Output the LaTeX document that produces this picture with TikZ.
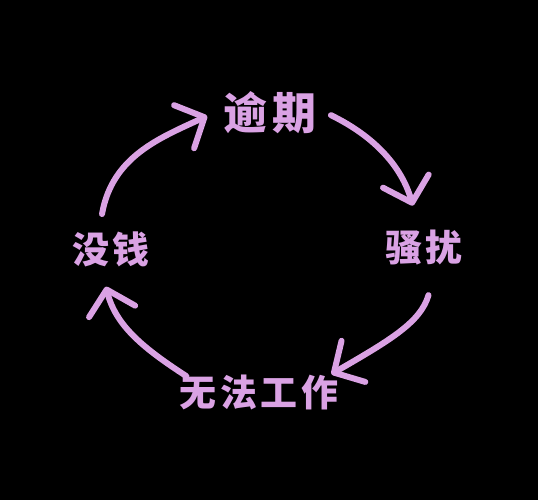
\documentclass[tikz,border=0pt]{standalone}
\usepackage{fontspec}
\usepackage{tikz}
\usetikzlibrary{arrows.meta}
\newfontfamily\cjk[LetterSpace=10]{Noto Sans CJK SC}
\definecolor{lilac}{RGB}{218,162,228}

\begin{document}
\begin{tikzpicture}[x=0.02cm,y=0.02cm,
  lbl/.style={text=lilac,inner sep=0.2cm,
    font=\cjk\bfseries\fontsize{21pt}{21pt}\selectfont},
  cyc/.style={draw=lilac,line width=0.12cm,line cap=round,
    -{Straight Barb[length=0.45cm,width=0.95cm,round]}}]
  \fill[black] (0,0) rectangle (538,500);
  \useasboundingbox (0,0) rectangle (538,500);
  % the four steps of the loop
  \node[lbl,font=\cjk\bfseries\fontsize{25pt}{25pt}\selectfont] (yuqi) at (270,387) {逾期};
  \node[lbl] (saorao) at (424,252) {骚扰};
  \node[lbl] (wufa) at (259,108) {无法工作};
  \node[lbl] (meiqian) at (111,251) {没钱};
  % arrows round the circle
  \draw[cyc,shorten >=0.14cm] ([shift={(-9,7)}]meiqian.north) to[out=80,in=205] (yuqi.west);
  \draw[cyc,shorten <=0.1cm,shorten >=0.3cm] (yuqi.east) to[out=-26,in=106] ([xshift=-0.14cm]saorao.north);
  \draw[cyc,shorten <=0.4cm,shorten >=-0.4cm] ([xshift=0.2cm]saorao.south) to[out=-106,in=30] (wufa.north east);
  \draw[cyc,shorten >=0.2cm] ([shift={(17,-12)}]wufa.north west) to[out=147,in=-76] ([xshift=-0.15cm]meiqian.south);
\end{tikzpicture}
\end{document}
